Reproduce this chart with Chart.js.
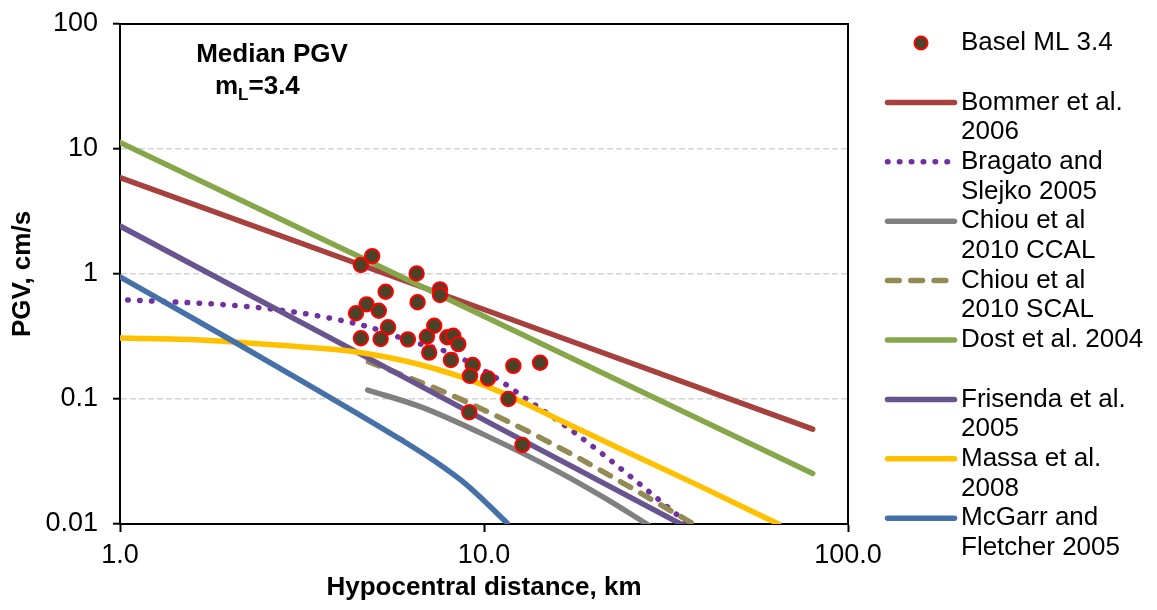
<!DOCTYPE html>
<html>
<head>
<meta charset="utf-8">
<script src="https://cdn.jsdelivr.net/npm/chart.js@4.4.1/dist/chart.umd.min.js"></script>
<style>
  html, body { margin: 0; padding: 0; background: #ffffff; }
  #wrap { width: 1157px; height: 610px; }
</style>
</head>
<body>
<div id="wrap"><canvas id="pgvChart"></canvas></div>
<script>
// ======================
// MEDIAN PGV - mL 3.4
// ======================

// ---------- eixos ----------
const xTicks = [1, 10, 100];
const yTicks = [0.01, 0.1, 1, 10, 100];

// ---------- dados observados (Basel) ----------
const baselDist = [4.93, 4.59, 6.53, 7.57, 7.57, 5.37, 6.57, 4.76, 5.14, 4.45, 5.45, 7.30, 4.59, 5.20, 6.18,
  6.97, 7.93, 8.23, 8.50, 7.07, 8.11, 9.31, 9.15, 10.26, 12.04, 14.26, 11.67, 9.11, 12.75];
const baselPgv = [1.39, 1.18, 1.01, 0.754, 0.679, 0.722, 0.594, 0.572, 0.508, 0.485, 0.375, 0.386, 0.306, 0.302, 0.300,
  0.315, 0.312, 0.321, 0.275, 0.235, 0.205, 0.187, 0.153, 0.146, 0.184, 0.195, 0.100, 0.0783, 0.0429];

// ---------- modelos ----------
const bommerDist = [1, 10, 80];
const bommerPgv = [5.9, 0.52, 0.0575];

const bragatoDist = [1.05, 1.42, 1.93, 2.75, 3.63, 4.83, 6.26, 7.91, 10.3, 13.2, 16.9, 21.5, 27.2, 36.1];
const bragatoPgv = [0.62, 0.597, 0.568, 0.515, 0.453, 0.377, 0.291, 0.238, 0.161, 0.098, 0.0597, 0.035, 0.0201, 0.0102];

const ccalDist = [4.79, 6.74, 10.27, 15.7, 21.5, 28.3];
const ccalPgv = [0.118, 0.086, 0.050, 0.027, 0.0161, 0.0098];

const scalDist = [4.81, 7.81, 11.92, 17.6, 26.0, 38.1];
const scalPgv = [0.199, 0.113, 0.0639, 0.0356, 0.0187, 0.0098];

const dostDist = [1, 10, 80];
const dostPgv = [11.3, 0.46, 0.0254];

const frisendaDist = [1, 3.77, 11.1, 35.2];
const frisendaPgv = [2.42, 0.31, 0.058, 0.0098];

const massaDist = [1.0, 1.66, 3.12, 4.42, 6.74, 10.27, 15.7, 23.9, 39.3, 64.4];
const massaPgv = [0.308, 0.297, 0.262, 0.239, 0.187, 0.125, 0.0705, 0.0394, 0.020, 0.01];

const mcgarrDist = [1.0, 2.04, 3.12, 4.42, 5.87, 7.24, 8.98, 11.57];
const mcgarrPgv = [0.95, 0.291, 0.142, 0.0787, 0.0479, 0.0325, 0.0205, 0.0102];

// ---------- textos da legenda ----------
const legendLines = [
  ["Basel ML 3.4"],
  ["Bommer et al.", "2006"],
  ["Bragato and", "Slejko 2005"],
  ["Chiou et al", "2010 CCAL"],
  ["Chiou et al", "2010 SCAL"],
  ["Dost et al. 2004"],
  ["Frisenda et al.", "2005"],
  ["Massa et al.", "2008"],
  ["McGarr and", "Fletcher 2005"],
];

const FONT = "'Liberation Sans', Arial, Helvetica, sans-serif";

// ---------- utilitário ----------
function pares(xs, ys) {
  return xs.map((x, i) => ({ x, y: ys[i] }));
}

function linha(idx, xs, ys, color, extra) {
  return Object.assign({
    label: legendLines[idx].join(" "),
    data: pares(xs, ys),
    borderColor: color,
    backgroundColor: color,
    borderWidth: 5.5,
    borderCapStyle: "round",
    borderJoinStyle: "round",
    pointRadius: 0,
    pointHoverRadius: 0,
    showLine: true,
    fill: false,
    tension: 0,
    clip: 0,
    order: 9 - idx,
  }, extra || {});
}

const curva = { cubicInterpolationMode: "monotone" };

// ---------- plugin: moldura, legenda e anotação ----------
const extras = {
  id: "extras",
  afterDatasetsDraw(chart) {
    const { ctx, chartArea: a } = chart;
    ctx.save();
    ctx.strokeStyle = "#000000";
    ctx.lineWidth = 2;
    ctx.beginPath();
    ctx.moveTo(a.left, a.top);
    ctx.lineTo(a.right, a.top);
    ctx.lineTo(a.right, a.bottom);
    ctx.stroke();
    ctx.restore();
  },
  afterDraw(chart) {
    const ctx = chart.ctx;
    ctx.save();

    // anotação
    ctx.fillStyle = "#000000";
    ctx.font = "bold 26px " + FONT;
    ctx.textAlign = "center";
    ctx.textBaseline = "alphabetic";
    ctx.fillText("Median PGV", 272, 62);
    ctx.textAlign = "left";
    let x0 = 215;
    ctx.fillText("m", x0, 93.5);
    x0 += ctx.measureText("m").width;
    ctx.font = "bold 17px " + FONT;
    ctx.fillText("L", x0, 100);
    x0 += ctx.measureText("L").width;
    ctx.font = "bold 26px " + FONT;
    ctx.fillText("=3.4", x0, 93.5);

    // legenda
    const slot = 59.4;
    const lineH = 29.7;
    chart.data.datasets.forEach((ds, i) => {
      const yc = 43 + slot * i;
      if (ds.showLine) {
        ctx.save();
        ctx.strokeStyle = ds.borderColor;
        ctx.lineWidth = ds.borderWidth;
        ctx.lineCap = "round";
        ctx.setLineDash(ds.borderDash || []);
        ctx.beginPath();
        ctx.moveTo(887.5, yc);
        ctx.lineTo(954.5, yc);
        ctx.stroke();
        ctx.restore();
      } else {
        ctx.beginPath();
        ctx.arc(921, yc, 6.5, 0, Math.PI * 2);
        ctx.fillStyle = ds.pointBackgroundColor;
        ctx.fill();
        ctx.lineWidth = 2;
        ctx.strokeStyle = ds.pointBorderColor;
        ctx.stroke();
      }
      ctx.fillStyle = "#000000";
      ctx.font = "26px " + FONT;
      ctx.textAlign = "left";
      ctx.textBaseline = "middle";
      legendLines[i].forEach((t, k) => ctx.fillText(t, 961, yc + k * lineH));
    });
    ctx.restore();
  },
};

// ---------- gráfico ----------
const ctx = document.getElementById("pgvChart").getContext("2d");

new Chart(ctx, {
  type: "line",
  data: {
    datasets: [
      {
        label: legendLines[0].join(" "),
        data: pares(baselDist, baselPgv),
        showLine: false,
        pointRadius: 7.2,
        pointHoverRadius: 7.2,
        pointBackgroundColor: "#4A4328",
        pointBorderColor: "#FF0000",
        pointBorderWidth: 2,
        borderColor: "#FF0000",
        backgroundColor: "#4A4328",
        order: 0,
      },
      linha(1, bommerDist, bommerPgv, "#A6413D"),
      linha(2, bragatoDist, bragatoPgv, "#7030A0", Object.assign({ borderDash: [0.5, 11.4] }, curva)),
      linha(3, ccalDist, ccalPgv, "#808080", curva),
      linha(4, scalDist, scalPgv, "#948A54", Object.assign({ borderDash: [11.7, 11.6] }, curva)),
      linha(5, dostDist, dostPgv, "#86A64A"),
      linha(6, frisendaDist, frisendaPgv, "#68548F"),
      linha(7, massaDist, massaPgv, "#FFC000", curva),
      linha(8, mcgarrDist, mcgarrPgv, "#4571A8", curva),
    ],
  },
  options: {
    responsive: true,
    maintainAspectRatio: false,
    animation: false,
    layout: { padding: { top: 24, right: 309, left: 0, bottom: 0 } },
    plugins: {
      legend: { display: false },
      tooltip: { enabled: false },
    },
    scales: {
      x: {
        type: "logarithmic",
        min: 1,
        max: 100,
        afterBuildTicks: (axis) => { axis.ticks = xTicks.map((value) => ({ value })); },
        afterFit: (axis) => {
          axis.height = 86;
          axis.paddingLeft = 0;
          axis.paddingRight = 0;
        },
        ticks: {
          color: "#000000",
          font: { family: FONT, size: 27 },
          padding: 7,
          maxRotation: 0,
          autoSkip: false,
          callback: (v) => Number(v).toFixed(1),
        },
        grid: {
          drawOnChartArea: false,
          drawTicks: true,
          tickLength: 8,
          tickWidth: 2,
          tickColor: "#000000",
          tickBorderDash: [],
        },
        border: { display: true, color: "#000000", width: 2 },
        title: {
          display: true,
          text: "Hypocentral distance, km",
          color: "#000000",
          font: { family: FONT, size: 26, weight: "bold" },
          padding: { top: 0, bottom: 7 },
        },
      },
      y: {
        type: "logarithmic",
        min: 0.01,
        max: 100,
        afterBuildTicks: (axis) => { axis.ticks = yTicks.map((value) => ({ value })); },
        afterFit: (axis) => {
          axis.width = 120;
          axis.paddingTop = 0;
          axis.paddingBottom = 0;
        },
        ticks: {
          color: "#000000",
          font: { family: FONT, size: 27 },
          padding: 15,
          autoSkip: false,
          callback: (v) => String(Number(v)),
        },
        grid: {
          color: (c) => (c.tick && (c.tick.value === 100 || c.tick.value === 0.01)) ? "rgba(0,0,0,0)" : "#D4D4D4",
          lineWidth: 1.4,
          drawTicks: true,
          tickLength: 7,
          tickWidth: 2,
          tickColor: "#000000",
          tickBorderDash: [],
        },
        border: { display: true, color: "#000000", width: 2, dash: [6, 3] },
        title: {
          display: true,
          text: "PGV, cm/s",
          color: "#000000",
          font: { family: FONT, size: 26, weight: "bold" },
          padding: { top: 7, bottom: 0 },
        },
      },
    },
  },
  plugins: [extras],
});
</script>
</body>
</html>
